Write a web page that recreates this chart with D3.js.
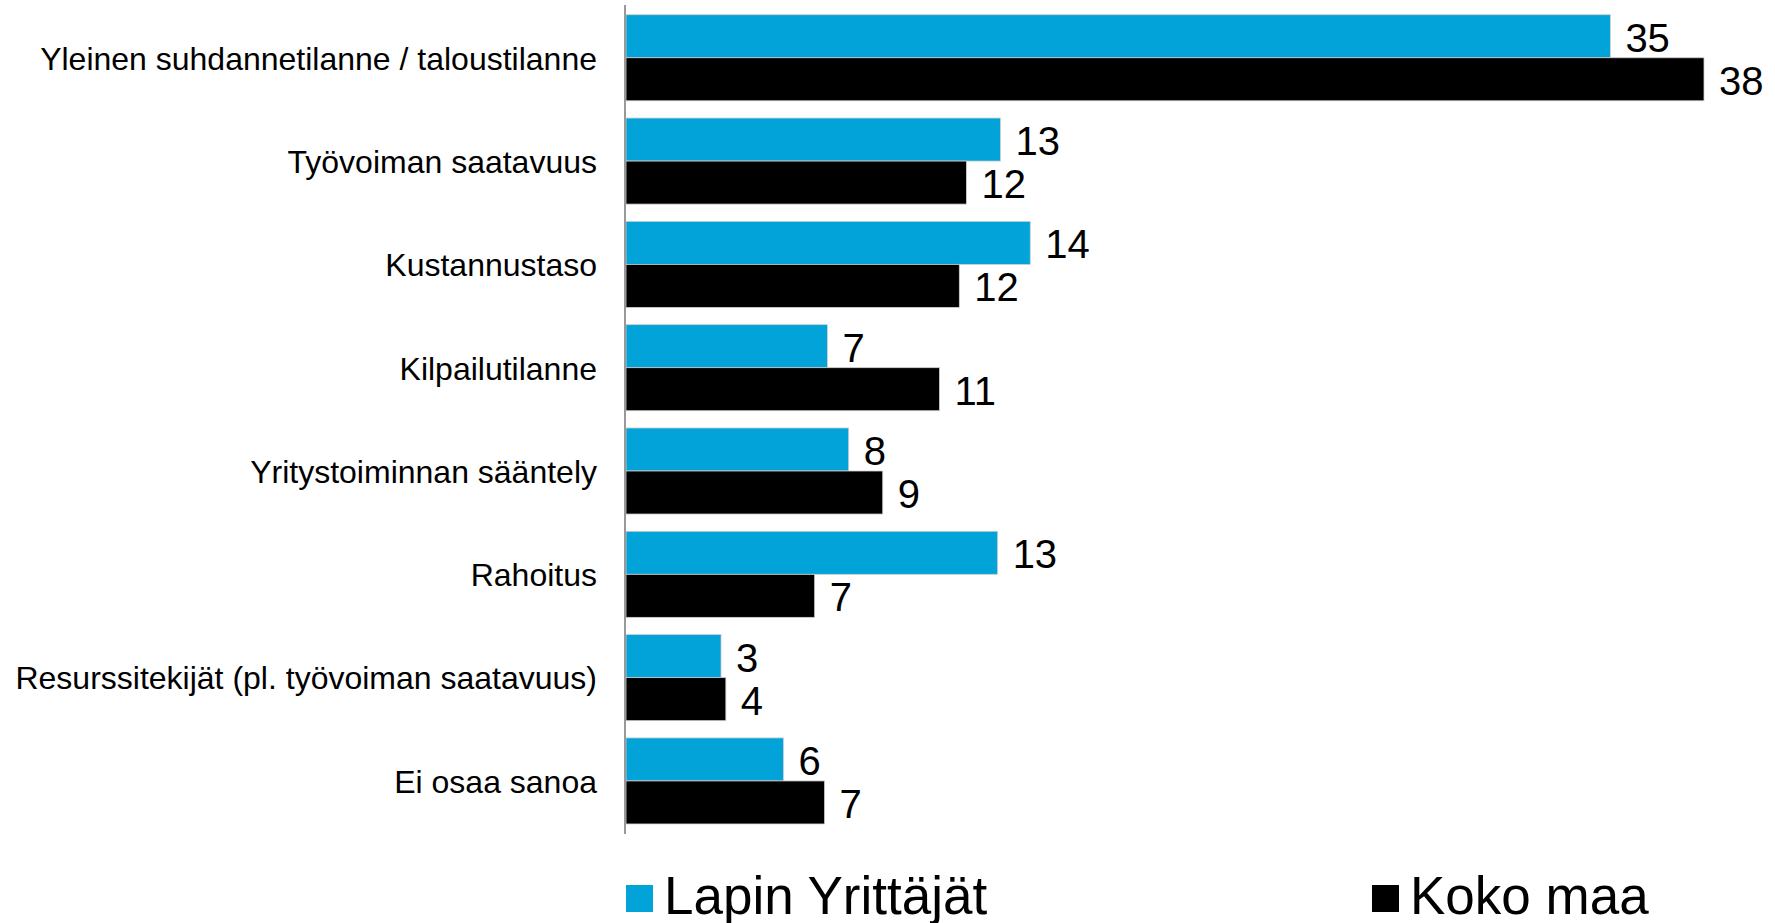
<!DOCTYPE html>
<html>
<head>
<meta charset="utf-8">
<script src="https://cdn.jsdelivr.net/npm/d3@7"></script>
<style>
  html, body { margin: 0; padding: 0; background: #fff; }
  svg { display: block; font-family: "Liberation Sans", Arial, sans-serif; }
</style>
</head>
<body>
<div id="vis"></div>
<script>
// data
const categories = [
  "Yleinen suhdannetilanne / taloustilanne",
  "Työvoiman saatavuus",
  "Kustannustaso",
  "Kilpailutilanne",
  "Yritystoiminnan sääntely",
  "Rahoitus",
  "Resurssitekijät (pl. työvoiman saatavuus)",
  "Ei osaa sanoa"
];
const seriesNames = ["Lapin Yrittäjät", "Koko maa"];
const lapinValues = [34.7, 13.2, 14.25, 7.1, 7.85, 13.1, 3.35, 5.55];
const kokoMaaValues = [38.0, 12.0, 11.75, 11.05, 9.05, 6.65, 3.52, 7.0];
const colors = ["#02a3d9", "#000000"];

const width = 1775, height = 923;

const svg = d3.select("#vis").append("svg")
    .attr("width", width)
    .attr("height", height);

// scales
const x = d3.scaleLinear()
    .domain([0, 38])
    .range([626, 1704]);

const y = d3.scaleBand()
    .domain(categories)
    .range([6.1, 832.6])
    .paddingInner(0.167)
    .paddingOuter(0.0835);

const ySub = d3.scaleBand()
    .domain(seriesNames)
    .range([0, y.bandwidth()]);

const rows = categories.map((c, i) => ({
    cat: c,
    vals: [
        {name: seriesNames[0], value: lapinValues[i], color: colors[0]},
        {name: seriesNames[1], value: kokoMaaValues[i], color: colors[1]}
    ]
}));

// bars
const groups = svg.selectAll(".grp")
    .data(rows)
  .enter().append("g")
    .attr("class", "grp")
    .attr("transform", d => "translate(0," + y(d.cat) + ")");

groups.selectAll("rect")
    .data(d => d.vals)
  .enter().append("rect")
    .attr("x", x(0))
    .attr("y", d => ySub(d.name))
    .attr("width", d => x(d.value) - x(0))
    .attr("height", ySub.bandwidth())
    .attr("fill", d => d.color)
    .attr("stroke", "#cfcfcf")
    .attr("stroke-width", 0.8);

// value labels
groups.selectAll(".val")
    .data(d => d.vals)
  .enter().append("text")
    .attr("class", "val")
    .attr("x", d => x(d.value) + 15)
    .attr("y", d => ySub(d.name) + ySub.bandwidth() / 2 + 15.5)
    .attr("font-size", 40)
    .attr("fill", "#000")
    .text(d => Math.round(d.value));

// category axis (left line + labels)
const yAxis = svg.append("g")
    .attr("transform", "translate(625,0)")
    .call(d3.axisLeft(y).tickSize(0).tickPadding(28));

yAxis.select(".domain")
    .attr("stroke", "#999")
    .attr("stroke-width", 2)
    .attr("d", "M0,5V834");

yAxis.selectAll(".tick text")
    .attr("font-size", 32)
    .attr("font-family", "Liberation Sans, Arial, sans-serif")
    .attr("fill", "#000")
    .attr("dy", "0.37em");

// legend
const legendX = [626, 1372];
const legend = svg.selectAll(".legend")
    .data(seriesNames)
  .enter().append("g")
    .attr("class", "legend")
    .attr("transform", (d, i) => "translate(" + legendX[i] + ",885)");

legend.append("rect")
    .attr("width", 27)
    .attr("height", 27)
    .attr("fill", (d, i) => colors[i]);

legend.append("text")
    .attr("x", 38)
    .attr("y", 29)
    .attr("font-size", 53)
    .attr("fill", "#000")
    .text(d => d);
</script>
</body>
</html>
